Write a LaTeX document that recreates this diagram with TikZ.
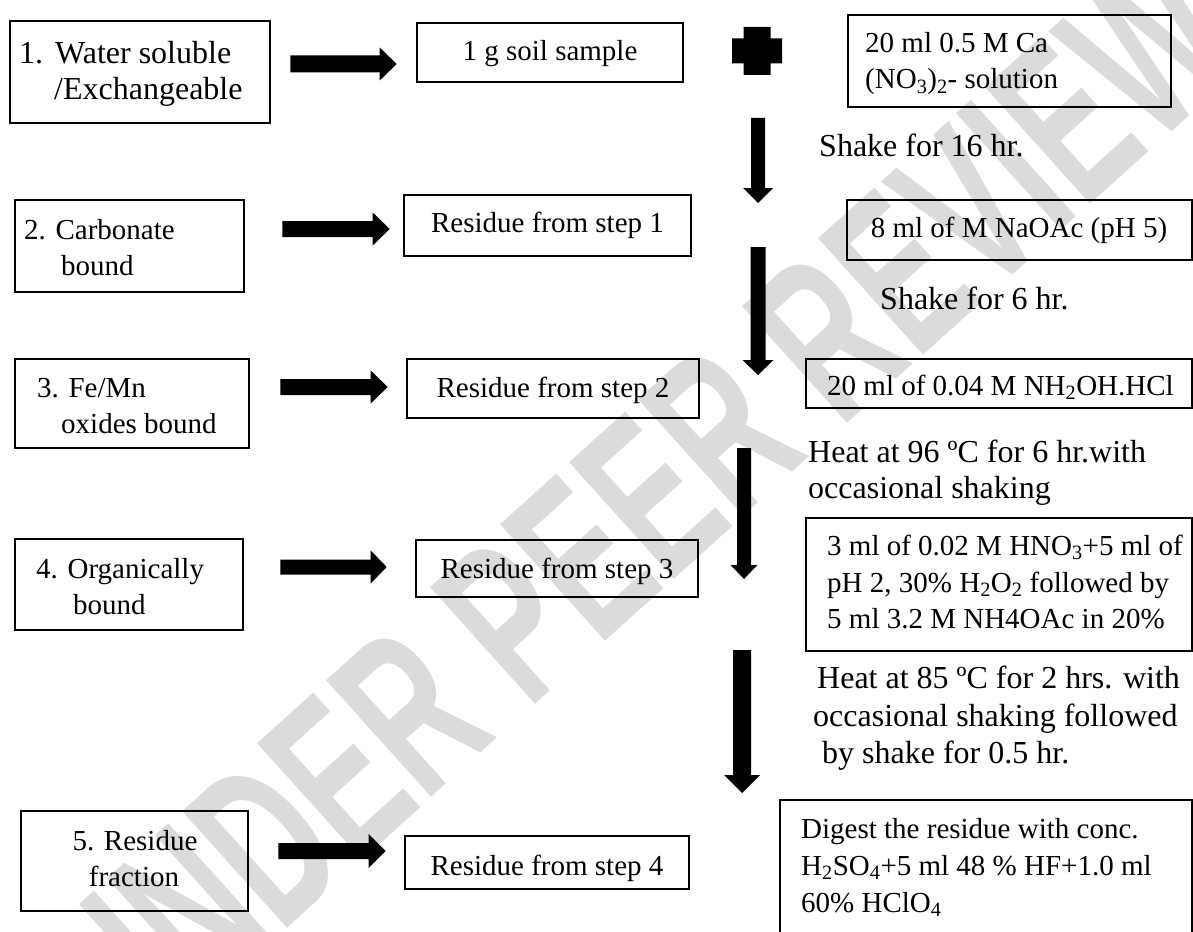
\documentclass[tikz,border=0pt]{standalone}
\usepackage{fontspec}
\setmainfont{Liberation Serif}
\newfontfamily\wmfont{Liberation Sans}
\usepackage{graphicx}
\usetikzlibrary{calc}

\tikzset{
  box/.style={draw, line width=2.6pt, inner sep=0pt},
  bt/.style={inner sep=0pt, anchor=base west, font=\fontsize{29}{35}\selectfont},
  btc/.style={bt, anchor=base},
  bigt/.style={inner sep=0pt, anchor=base west, font=\fontsize{32}{37}\selectfont},
  lab/.style={inner sep=0pt, anchor=base west, font=\fontsize{32}{37}\selectfont},
  wm/.style={inner sep=0pt, rotate=42, text=black!14, font=\wmfont\bfseries\fontsize{228}{228}\selectfont},
}

% box node from corner coordinates (x0,y0,x1,y1)
\newcommand\bx[5]{\node[box, minimum width={#4pt-#2pt}, minimum height={#5pt-#3pt}] (#1) at ({(#2+#4)/2},{(#3+#5)/2}) {};}
% fat right arrow: start, tip, half shaft, half head, head length
\newcommand\fatR[5]{\fill ($(#1)+(0,-#3)$) -- ($(#2)+(-#5,-#3)$) -- ($(#2)+(-#5,-#4)$) -- (#2) -- ($(#2)+(-#5,#4)$) -- ($(#2)+(-#5,#3)$) -- ($(#1)+(0,#3)$) -- cycle;}
% fat down arrow: start, tip, half shaft, half head, head length
\newcommand\fatD[5]{\fill ($(#1)+(-#3,0)$) -- ($(#2)+(-#3,-#5)$) -- ($(#2)+(-#4,-#5)$) -- (#2) -- ($(#2)+(#4,-#5)$) -- ($(#2)+(#3,-#5)$) -- ($(#1)+(#3,0)$) -- cycle;}

\begin{document}
\begin{tikzpicture}[x=1pt,y=-1pt]
\useasboundingbox (0,0) rectangle (1193,931);
\clip (0,0) rectangle (1193,931);
\fill[white] (0,0) rectangle (1193,931);

% watermark
\node[wm] (wmark) at (639,507) {\scalebox{0.614}[1]{UNDER PEER REVIEW}};

% ---------- boxes ----------
\bx{b1}{10}{21}{270}{123}
\bx{b2}{417}{23}{683}{82}
\bx{b3}{848}{15}{1171}{107}
\bx{b4}{15}{200}{244}{292}
\bx{b5}{404}{195}{691}{256}
\bx{b6}{847}{200}{1192}{260}
\bx{b7}{15}{359}{249}{448}
\bx{b8}{407}{359}{699}{418}
\bx{b9}{806}{359}{1192}{408}
\bx{b10}{15}{539}{243}{630}
\bx{b11}{416}{540}{698}{597}
\bx{b12}{806}{518}{1192}{651}
\bx{b13}{21}{811}{248}{911}
\bx{b14}{405}{836}{689}{889}
\bx{b15}{780}{800}{1192}{950}

% ---------- box texts ----------
\node[bigt] (t1a) at (19,64) {1.\hspace{12pt}Water soluble};
\node[bigt] (t1b) at (54,100) {/Exchangeable};
\node[btc] (t2) at (550,61) {1 g soil sample};
\node[bt] (t3a) at (865,53) {20 ml 0.5 M Ca};
\node[bt] (t3b) at (865,89) {(NO\textsubscript{3})\textsubscript{2}- solution};
\node[bt] (t4a) at (24,239) {2. Carbonate};
\node[bt] (t4b) at (61,275) {bound};
\node[btc] (t5) at (547.5,232) {Residue from step 1};
\node[btc] (t6) at (1019,237) {8 ml of M NaOAc (pH 5)};
\node[bt] (t7a) at (37,397) {3. Fe/Mn};
\node[bt] (t7b) at (61,433) {oxides bound};
\node[btc] (t8) at (553,397) {Residue from step 2};
\node[bt] (t9) at (827,395) {20 ml of 0.04 M NH\textsubscript{2}OH.HCl};
\node[bt] (t10a) at (36,578) {4. Organically};
\node[bt] (t10b) at (73,614) {bound};
\node[btc] (t11) at (557,578) {Residue from step 3};
\node[bt] (t12a) at (827,555) {3 ml of 0.02 M HNO\textsubscript{3}+5 ml of};
\node[bt] (t12b) at (827,592) {pH 2, 30\% H\textsubscript{2}O\textsubscript{2} followed by};
\node[bt] (t12c) at (827,628) {5 ml 3.2 M NH4OAc in 20\%};
\node[btc] (t13a) at (135,850) {5. Residue};
\node[btc] (t13b) at (134,886) {fraction};
\node[btc] (t14) at (547,875) {Residue from step 4};
\node[bt] (t15a) at (801,838) {Digest the residue with conc.};
\node[bt] (t15b) at (801,875) {H\textsubscript{2}SO\textsubscript{4}+5 ml 48 \% HF+1.0 ml};
\node[bt] (t15c) at (801,912) {60\% HClO\textsubscript{4}};

% ---------- labels ----------
\node[lab] (l1) at (819,157) {Shake for 16 hr.};
\node[lab] (l2) at (880,309) {Shake for 6 hr.};
\node[lab] (l3a) at (808,462) {Heat at 96 ºC for 6 hr.with};
\node[lab] (l3b) at (808,498) {occasional shaking};
\node[lab] (l4a) at (817,688) {Heat at 85 ºC for 2 hrs. with};
\node[lab] (l4b) at (813,726) {occasional shaking followed};
\node[lab] (l4c) at (822,763) {by shake for 0.5 hr.};

% ---------- plus sign ----------
\fill (743.5,27) -- (770.5,27) -- (770.5,38.5) -- (782,38.5) -- (782,63.5) -- (770.5,63.5)
  -- (770.5,75) -- (743.5,75) -- (743.5,63.5) -- (732,63.5) -- (732,38.5) -- (743.5,38.5) -- cycle;

% ---------- horizontal arrows ----------
\coordinate (r1s) at ($(b1.east |- 0,64)+(19,0)$);
\coordinate (r1e) at ($(b2.west |- 0,64)+(-19,0)$);
\coordinate (r2s) at ($(b4.east |- 0,229)+(37,0)$);
\coordinate (r2e) at ($(b5.west |- 0,229)+(-13,0)$);
\coordinate (r3s) at ($(b7.east |- 0,387)+(30,0)$);
\coordinate (r3e) at ($(b8.west |- 0,387)+(-18,0)$);
\coordinate (r4s) at ($(b10.east |- 0,567)+(36,0)$);
\coordinate (r4e) at ($(b11.west |- 0,567)+(-28,0)$);
\coordinate (r5s) at ($(b13.east |- 0,851)+(29,0)$);
\coordinate (r5e) at ($(b14.west |- 0,851)+(-18,0)$);
\fatR{r1s}{r1e}{8.5}{16.5}{17}
\fatR{r2s}{r2e}{8}{16.5}{17}
\fatR{r3s}{r3e}{8}{16.5}{17}
\fatR{r4s}{r4e}{7.5}{16.5}{16}
\fatR{r5s}{r5e}{8}{17}{17}

% ---------- vertical arrows ----------
\coordinate (v1s) at (758,118);  \coordinate (v1e) at (758,203);
\coordinate (v2s) at (758,247);  \coordinate (v2e) at (758,375);
\coordinate (v3s) at (744,448);  \coordinate (v3e) at (744,579);
\coordinate (v4s) at (742,650);  \coordinate (v4e) at (742,793);
\fatD{v1s}{v1e}{7}{15}{15}
\fatD{v2s}{v2e}{7.5}{15.5}{15}
\fatD{v3s}{v3e}{7}{13.5}{14}
\fatD{v4s}{v4e}{9}{18}{18}
\end{tikzpicture}
\end{document}
